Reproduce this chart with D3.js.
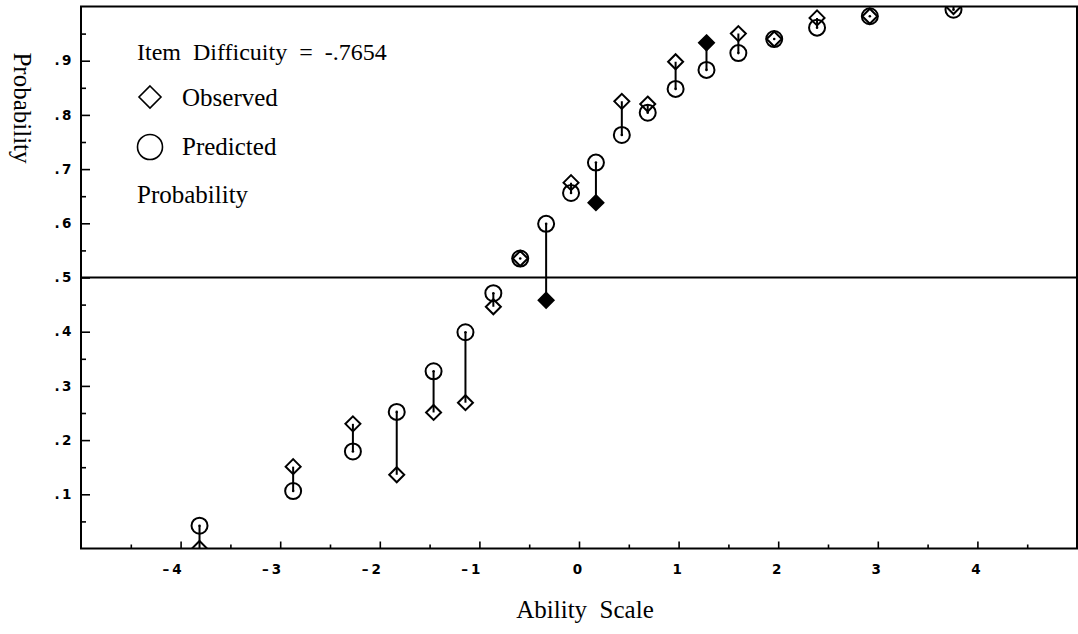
<!DOCTYPE html>
<html>
<head>
<meta charset="utf-8">
<script src="https://cdn.jsdelivr.net/npm/d3@7.9.0/dist/d3.min.js"></script>
<style>
  html, body { margin: 0; padding: 0; background: #fff; }
  svg { display: block; }
  .serif { font-family: "Liberation Serif", "Times New Roman", serif; fill: #000; }
  .tick-label { font-family: "DejaVu Sans", sans-serif; font-weight: bold; font-size: 13.5px; fill: #000; }
</style>
</head>
<body>
<svg id="chart" width="1078" height="634"></svg>
<script>
// Data
const ability = [-3.81, -2.87, -2.27, -1.83, -1.46, -1.14, -0.86, -0.59, -0.33, -0.08,
                 0.17, 0.43, 0.69, 0.97, 1.28, 1.60, 1.96, 2.39, 2.92, 3.76];
const observed = [0.000, 0.151, 0.230, 0.136, 0.251, 0.269, 0.446, 0.535, 0.458, 0.675,
                  0.638, 0.825, 0.820, 0.898, 0.933, 0.950, 0.940, 0.979, 0.982, 1.000];
const predicted = [0.042, 0.106, 0.179, 0.252, 0.327, 0.399, 0.471, 0.535, 0.599, 0.656,
                   0.712, 0.763, 0.804, 0.848, 0.883, 0.914, 0.940, 0.961, 0.982, 0.994];
// filled diamonds (misfitting groups)
const misfit = [false, false, false, false, false, false, false, false, true, false,
                true, false, false, false, true, false, false, false, false, false];

const xTicks = [-4, -3, -2, -1, 0, 1, 2, 3, 4];
const xHalfTicks = [-4.5, -3.5, -2.5, -1.5, -0.5, 0.5, 1.5, 2.5, 3.5, 4.5];
const yTicks = [0.1, 0.2, 0.3, 0.4, 0.5, 0.6, 0.7, 0.8, 0.9];
const yHalfTicks = [0.05, 0.15, 0.25, 0.35, 0.45, 0.55, 0.65, 0.75, 0.85, 0.95];
const itemDifficulty = '-.7654';

const svg = d3.select('#chart');
const plotLeft = 81, plotRight = 1077, plotTop = 6.5, plotBottom = 548.5;

const x = d3.scaleLinear().domain([-5, 5]).range([plotLeft, plotRight]);
const y = d3.scaleLinear().domain([0, 1]).range([plotBottom, plotTop]);

// frame
svg.append('rect')
  .attr('x', plotLeft).attr('y', plotTop)
  .attr('width', plotRight - plotLeft).attr('height', plotBottom - plotTop)
  .attr('fill', 'none').attr('stroke', '#000').attr('stroke-width', 2);

// 0.5 reference line
svg.append('line')
  .attr('x1', plotLeft).attr('x2', plotRight)
  .attr('y1', y(0.5)).attr('y2', y(0.5))
  .attr('stroke', '#000').attr('stroke-width', 2);

// y axis: ticks pointing inward
const yAxis = svg.append('g').attr('transform', `translate(${plotLeft},0)`);
yAxis.call(d3.axisRight(y).tickValues(yTicks).tickSize(9).tickFormat(''));
yAxis.select('.domain').remove();
yAxis.append('g')
  .call(d3.axisRight(y).tickValues(yHalfTicks).tickSize(5).tickFormat(''))
  .select('.domain').remove();
yAxis.selectAll('line').attr('stroke', '#000').attr('stroke-width', 1.6);

svg.append('g').selectAll('text')
  .data(yTicks)
  .join('text')
  .attr('class', 'tick-label')
  .attr('x', plotLeft - 7)
  .attr('y', (d) => y(d))
  .attr('dy', '0.35em')
  .attr('text-anchor', 'end')
  .attr('letter-spacing', 2.5)
  .text((d) => d3.format('.1f')(d).replace('0.', '.'));

// x axis: ticks pointing up
const xAxis = svg.append('g').attr('transform', `translate(0,${plotBottom})`);
xAxis.call(d3.axisTop(x).tickValues(xTicks).tickSize(7).tickFormat(''));
xAxis.select('.domain').remove();
xAxis.append('g')
  .call(d3.axisTop(x).tickValues(xHalfTicks).tickSize(4).tickFormat(''))
  .select('.domain').remove();
xAxis.selectAll('line').attr('stroke', '#000').attr('stroke-width', 1.6);

svg.append('g').selectAll('text')
  .data(xTicks)
  .join('text')
  .attr('class', 'tick-label')
  .attr('x', (d) => x(d) - (d < 0 ? 7 : 0))
  .attr('y', plotBottom + 25)
  .attr('text-anchor', 'middle')
  .attr('letter-spacing', 3)
  .text((d) => String(d).replace('-', '\u2013'));

// axis titles
svg.append('text')
  .attr('class', 'serif')
  .attr('transform', 'translate(14,108) rotate(90)')
  .attr('text-anchor', 'middle')
  .attr('font-size', 25)
  .text('Probability');

svg.append('text')
  .attr('class', 'serif')
  .attr('x', 585)
  .attr('y', 618)
  .attr('text-anchor', 'middle')
  .attr('font-size', 25)
  .style('white-space', 'pre')
  .text('Ability  Scale');

// points, clipped to the plot area
svg.append('clipPath').attr('id', 'plot-clip')
  .append('rect')
  .attr('x', plotLeft).attr('y', plotTop)
  .attr('width', plotRight - plotLeft).attr('height', plotBottom - plotTop);

const points = ability.map((a, i) => ({
  a, obs: observed[i], pred: predicted[i], filled: misfit[i]
}));

const marks = svg.append('g').attr('clip-path', 'url(#plot-clip)');
const diamond = (cx, cy, r) =>
  `M${cx},${cy - r}L${cx + r},${cy}L${cx},${cy + r}L${cx - r},${cy}Z`;

marks.selectAll('line.resid')
  .data(points)
  .join('line')
  .attr('class', 'resid')
  .attr('x1', (d) => x(d.a)).attr('x2', (d) => x(d.a))
  .attr('y1', (d) => y(d.obs)).attr('y2', (d) => y(d.pred))
  .attr('stroke', '#000').attr('stroke-width', 2);

marks.selectAll('circle.pred')
  .data(points)
  .join('circle')
  .attr('class', 'pred')
  .attr('cx', (d) => x(d.a))
  .attr('cy', (d) => y(d.pred))
  .attr('r', 8)
  .attr('fill', 'none')
  .attr('stroke', '#000').attr('stroke-width', 2);

marks.selectAll('path.obs')
  .data(points)
  .join('path')
  .attr('class', 'obs')
  .attr('d', (d) => diamond(x(d.a), y(d.obs), 7.5))
  .attr('fill', (d) => (d.filled ? '#000' : 'none'))
  .attr('stroke', '#000').attr('stroke-width', 2);

marks.selectAll('circle.dot')
  .data(points)
  .join('circle')
  .attr('class', 'dot')
  .attr('cx', (d) => x(d.a))
  .attr('cy', (d) => y(d.pred))
  .attr('r', 1.3)
  .attr('fill', '#000');

// legend
const legend = svg.append('g');
legend.append('text')
  .attr('class', 'serif')
  .attr('x', 137).attr('y', 60)
  .attr('font-size', 24)
  .style('white-space', 'pre')
  .text(`Item  Difficuity  =  ${itemDifficulty}`);

legend.append('path')
  .attr('d', diamond(150, 97, 11))
  .attr('fill', 'none').attr('stroke', '#000').attr('stroke-width', 1.6);
legend.append('text')
  .attr('class', 'serif')
  .attr('x', 182).attr('y', 106)
  .attr('font-size', 25)
  .text('Observed');

legend.append('circle')
  .attr('cx', 150).attr('cy', 147).attr('r', 12.5)
  .attr('fill', 'none').attr('stroke', '#000').attr('stroke-width', 1.6);
legend.append('text')
  .attr('class', 'serif')
  .attr('x', 182).attr('y', 155)
  .attr('font-size', 25)
  .text('Predicted');

legend.append('text')
  .attr('class', 'serif')
  .attr('x', 137).attr('y', 203)
  .attr('font-size', 25)
  .text('Probability');
</script>
</body>
</html>
